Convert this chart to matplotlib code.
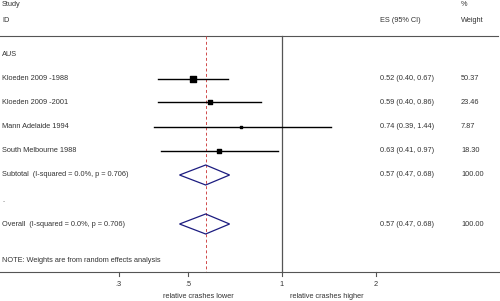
import numpy as np
import matplotlib.pyplot as plt
from matplotlib.patches import Polygon

plt.rcParams['font.family'] = ['Liberation Sans', 'DejaVu Sans']

# study rows
studies = ['Kloeden 2009 -1988', 'Kloeden 2009 -2001', 'Mann Adelaide 1994', 'South Melbourne 1988']
es = [0.52, 0.59, 0.74, 0.63]
lo = [0.40, 0.40, 0.39, 0.41]
hi = [0.67, 0.86, 1.44, 0.97]
weights = [50.37, 23.46, 7.87, 18.30]

# pooled estimates
pooled_labels = ['Subtotal  (I-squared = 0.0%, p = 0.706)', 'Overall  (I-squared = 0.0%, p = 0.706)']
pooled_es = [0.57, 0.57]
pooled_lo = [0.47, 0.47]
pooled_hi = [0.68, 0.68]
pooled_w = [100.00, 100.00]

xticks = [0.3, 0.5, 1, 2]
xticklabels = ['.3', '.5', '1', '2']

# vertical layout (pixel rows)
study_y = [79, 102, 127, 151]
pooled_y = [175, 224]
top_y, axis_y = 36, 272

fig = plt.figure(figsize=(5.0, 3.01), dpi=100)
ax = fig.add_axes([0, 0, 1, 1])
ax.set_xscale('log')
ax.set_xlim(0.125, 5.0)
ax.set_ylim(301, 0)
ax.axis('off')

txt = '#333333'
fs = 5.3
tr = ax.get_yaxis_transform()  # x in axes frac, y in data


def col(px):
    return px / 500.0


# headers
ax.text(col(2), 4, 'Study', transform=tr, fontsize=fs, color=txt, va='center')
ax.text(col(2), 20, 'ID', transform=tr, fontsize=fs, color=txt, va='center')
ax.text(col(461), 4, '%', transform=tr, fontsize=fs, color=txt, va='center')
ax.text(col(380), 20, 'ES (95% CI)', transform=tr, fontsize=fs, color=txt, va='center')
ax.text(col(461), 20, 'Weight', transform=tr, fontsize=fs, color=txt, va='center')
ax.axhline(top_y, xmin=0, xmax=0.995, color='#555555', lw=0.8)

ax.text(col(2), 54, 'AUS', transform=tr, fontsize=fs, color=txt, va='center')

# reference lines
ax.plot([1, 1], [top_y, axis_y], color='#555555', lw=0.9)
ax.plot([pooled_es[1], pooled_es[1]], [top_y, axis_y], color='#d04a4a', lw=0.7, ls=(0, (3, 2.5)))

# individual studies
for name, e, l, h, w, y in zip(studies, es, lo, hi, weights, study_y):
    ax.text(col(2), y, name, transform=tr, fontsize=fs, color=txt, va='center')
    ax.plot([l, h], [y, y], color='black', lw=1.0)
    side = 0.85 * np.sqrt(w) * 0.72
    ax.scatter([e], [y], marker='s', s=side ** 2, color='black', zorder=3)
    ax.text(col(380), y, f'{e:.2f} ({l:.2f}, {h:.2f})', transform=tr, fontsize=fs, color=txt, va='center')
    ax.text(col(461), y, f'{w:.2f}', transform=tr, fontsize=fs, color=txt, va='center')

ax.text(col(2), 200, '.', transform=tr, fontsize=fs, color=txt, va='center')

# pooled diamonds
for name, e, l, h, w, y in zip(pooled_labels, pooled_es, pooled_lo, pooled_hi, pooled_w, pooled_y):
    ax.text(col(2), y, name, transform=tr, fontsize=fs, color=txt, va='center')
    dia = Polygon([[l, y], [e, y - 10], [h, y], [e, y + 10]], closed=True,
                  fill=False, edgecolor='#1c1c80', lw=0.9, zorder=3)
    ax.add_patch(dia)
    ax.text(col(380), y, f'{e:.2f} ({l:.2f}, {h:.2f})', transform=tr, fontsize=fs, color=txt, va='center')
    ax.text(col(461), y, f'{w:.2f}', transform=tr, fontsize=fs, color=txt, va='center')

ax.text(col(2), 260, 'NOTE: Weights are from random effects analysis', transform=tr,
        fontsize=fs, color=txt, va='center')

# bottom axis
ax.axhline(axis_y, color='#555555', lw=0.8)
for t, lab in zip(xticks, xticklabels):
    ax.plot([t, t], [axis_y, axis_y + 4], color='#555555', lw=0.8)
    ax.text(t, 285, lab, fontsize=fs, color=txt, ha='center', va='center')
ax.text(col(198), 296, 'relative crashes lower', transform=tr, fontsize=fs, color=txt,
        ha='center', va='center')
ax.text(col(327), 296, 'relative crashes higher', transform=tr, fontsize=fs, color=txt,
        ha='center', va='center')

fig.savefig('out.png', dpi=100)
